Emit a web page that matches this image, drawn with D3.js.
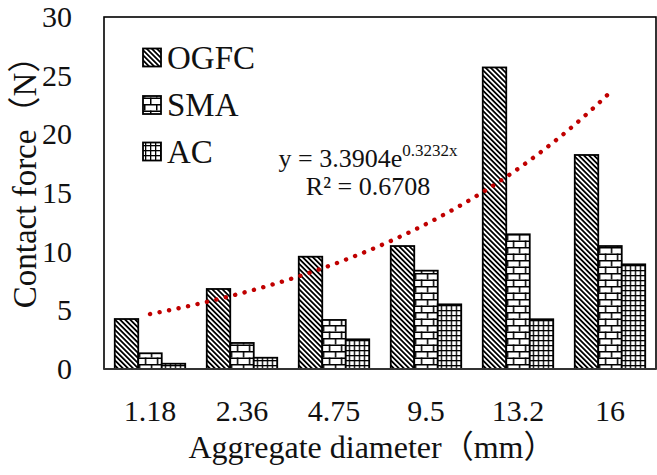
<!DOCTYPE html>
<html>
<head>
<meta charset="utf-8">
<script src="https://cdn.jsdelivr.net/npm/d3@7"></script>
<style>
  html, body { margin: 0; padding: 0; background: #fff; }
  svg { display: block; }
  text { font-family: "Liberation Serif", "Times New Roman", "Noto Sans CJK SC", serif; fill: #111; }
</style>
</head>
<body>
<script>
// ---- data ----
const categories = ["1.18", "2.36", "4.75", "9.5", "13.2", "16"];
const seriesNames = ["OGFC", "SMA", "AC"];
const ogfcValues = [4.26, 6.82, 9.57, 10.48, 25.7, 18.24];
const smaValues = [1.34, 2.22, 4.18, 8.38, 11.48, 10.48];
const acValues = [0.45, 0.96, 2.53, 5.51, 4.24, 8.92];
const yTicks = [0, 5, 10, 15, 20, 25, 30];
const trendA = 3.3904, trendB = 0.3232;
const trendLabel1 = "y = 3.3904e";
const trendSup = "0.3232x";
const trendLabel2 = "R² = 0.6708";
const xTitle = "Aggregate diameter（mm）";
const yTitle = "Contact force（N）";

const W = 657, H = 475;
const plot = { left: 104, right: 656, top: 17, bottom: 369 };

const svg = d3.select("body").append("svg").attr("width", W).attr("height", H);

// ---- patterns ----
const defs = svg.append("defs");
const pO = defs.append("pattern").attr("id", "pat-OGFC").attr("patternUnits", "userSpaceOnUse")
  .attr("width", 3.6).attr("height", 3.6).attr("patternTransform", "rotate(-45)");
pO.append("rect").attr("width", 3.6).attr("height", 3.6).attr("fill", "#fff");
pO.append("rect").attr("width", 1.8).attr("height", 3.6).attr("fill", "#000");

const bw = 12, bh = 6.5;
const pS = defs.append("pattern").attr("id", "pat-SMA").attr("patternUnits", "userSpaceOnUse")
  .attr("width", bw).attr("height", bh * 2);
pS.append("rect").attr("width", bw).attr("height", bh * 2).attr("fill", "#fff");
pS.append("rect").attr("x", 0).attr("y", 0).attr("width", bw).attr("height", 1.5).attr("fill", "#000");
pS.append("rect").attr("x", 0).attr("y", bh).attr("width", bw).attr("height", 1.5).attr("fill", "#000");
pS.append("rect").attr("x", 0).attr("y", 0).attr("width", 1.5).attr("height", bh).attr("fill", "#000");
pS.append("rect").attr("x", bw / 2).attr("y", bh).attr("width", 1.5).attr("height", bh).attr("fill", "#000");

const g = 5;
const pA = defs.append("pattern").attr("id", "pat-AC").attr("patternUnits", "userSpaceOnUse")
  .attr("width", g).attr("height", g);
pA.append("rect").attr("width", g).attr("height", g).attr("fill", "#fff");
pA.append("rect").attr("width", g).attr("height", 1.3).attr("fill", "#000");
pA.append("rect").attr("width", 1.3).attr("height", g).attr("fill", "#000");

const fills = { OGFC: "url(#pat-OGFC)", SMA: "url(#pat-SMA)", AC: "url(#pat-AC)" };

// ---- scales ----
const x0 = d3.scaleBand().domain(categories).range([plot.left, plot.right])
  .paddingInner(0.234).paddingOuter(0.117);
const x1 = d3.scaleBand().domain(seriesNames).range([0, x0.bandwidth()]).padding(0);
const y = d3.scaleLinear().domain([0, 30]).range([plot.bottom, plot.top]);

// ---- frame ----
svg.append("rect").attr("x", plot.left).attr("y", plot.top)
  .attr("width", plot.right - plot.left).attr("height", plot.bottom - plot.top)
  .attr("fill", "none").attr("stroke", "#000").attr("stroke-width", 1.6);

// ---- bars ----
const rows = categories.map((c, i) => ({ cat: c, OGFC: ogfcValues[i], SMA: smaValues[i], AC: acValues[i] }));
const grp = svg.append("g").selectAll("g").data(rows).join("g")
  .attr("transform", d => `translate(${x0(d.cat)},0)`);
grp.selectAll("rect").data(d => seriesNames.map(k => ({ key: k, value: d[k] }))).join("rect")
  .attr("x", d => x1(d.key))
  .attr("y", d => y(d.value))
  .attr("width", x1.bandwidth())
  .attr("height", d => y(0) - y(d.value))
  .attr("fill", d => fills[d.key])
  .attr("stroke", "#000").attr("stroke-width", 1.8);

// bottom axis line
svg.append("line").attr("x1", plot.left).attr("x2", plot.right)
  .attr("y1", plot.bottom).attr("y2", plot.bottom).attr("stroke", "#333").attr("stroke-width", 2);

// ---- trendline ----
const xi = d3.scaleLinear().domain([1, 6])
  .range([x0(categories[0]) + x0.bandwidth() / 2, x0(categories[5]) + x0.bandwidth() / 2]);
const tPts = d3.range(1, 6.001, 0.05).map(t => [xi(t), y(trendA * Math.exp(trendB * t))]);
svg.append("path").attr("d", d3.line()(tPts))
  .attr("fill", "none").attr("stroke", "#c00000").attr("stroke-width", 4.4)
  .attr("stroke-linecap", "round").attr("stroke-dasharray", "0.1 9.6");

// ---- axes ----
const yAxis = svg.append("g").attr("transform", `translate(${plot.left},0)`)
  .call(d3.axisLeft(y).tickValues(yTicks).tickSize(0).tickPadding(32));
yAxis.select(".domain").remove();
yAxis.selectAll("text").attr("font-size", 30).attr("font-family", "Liberation Serif").attr("fill", "#111");

const xAxis = svg.append("g").attr("transform", `translate(0,${plot.bottom})`)
  .call(d3.axisBottom(x0).tickSize(0).tickPadding(31));
xAxis.select(".domain").remove();
xAxis.selectAll("text").attr("font-size", 30).attr("font-family", "Liberation Serif").attr("fill", "#111");

// ---- titles ----
svg.append("text").attr("x", 372).attr("y", 458).attr("text-anchor", "middle")
  .attr("font-size", 32).text(xTitle);
svg.append("text").attr("transform", "translate(36,174) rotate(-90)").attr("text-anchor", "middle")
  .attr("font-size", 33).text(yTitle);

// ---- legend ----
const leg = svg.append("g");
const legY = [57.5, 105, 151.5];
seriesNames.forEach((s, i) => {
  leg.append("rect").attr("x", 143).attr("y", legY[i] - 9).attr("width", 18).attr("height", 18)
    .attr("fill", fills[s]).attr("stroke", "#000").attr("stroke-width", 1.8);
  leg.append("text").attr("x", 167).attr("y", legY[i] + 11).attr("font-size", 33).text(s);
});

// ---- trendline label ----
const lab = svg.append("text").attr("x", 368).attr("y", 167).attr("text-anchor", "middle").attr("font-size", 26);
lab.append("tspan").text(trendLabel1);
lab.append("tspan").attr("font-size", 17).attr("dy", -11).text(trendSup);
svg.append("text").attr("x", 368).attr("y", 195).attr("text-anchor", "middle").attr("font-size", 26).text(trendLabel2);
</script>
</body>
</html>
